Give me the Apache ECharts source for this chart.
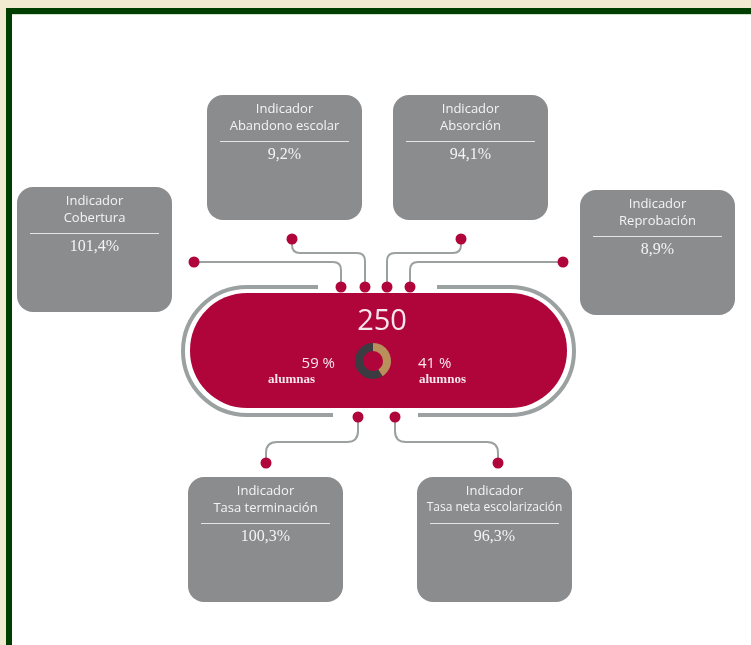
<!DOCTYPE html>
<html>
<head>
<meta charset="utf-8">
<script src="https://cdn.jsdelivr.net/npm/echarts@6/dist/echarts.min.js"></script>
<style>
html, body { margin: 0; padding: 0; background: #f3ead2; }
#main { width: 751px; height: 645px; }
</style>
</head>
<body>
<div id="main"></div>
<script>
// datos del cuadro
var indicadores = ['Cobertura', 'Abandono escolar', 'Absorción', 'Reprobación', 'Tasa terminación', 'Tasa neta escolarización'];
var valores = [101.4, 9.2, 94.1, 8.9, 100.3, 96.3];
var totalAlumnos = 250;
var generos = ['alumnas', 'alumnos'];
var porcentajes = [59, 41];

// posiciones (esquina sup. izq. de cada recuadro) y conectores
var cajas = [[17, 187], [207, 95], [393, 95], [580, 190], [188, 477], [417, 477]];
var conectores = [
	[[341, 287], [341, 262], [194, 262]],
	[[365, 287], [365, 253], [292, 253], [292, 239]],
	[[387, 287], [387, 253], [461, 253], [461, 239]],
	[[410, 287], [410, 262], [563, 262]],
	[[358, 417], [358, 442], [266, 442], [266, 463]],
	[[395, 417], [395, 442], [498, 442], [498, 463]]
];

var rojo = '#b0053a';
var grisLinea = '#9ba0a0';
var grisCaja = '#8b8c8e';
var texto = '#f4f4f4';

//formato con coma decimal
function fmt(v) {
	return v.toFixed(1).replace('.', ',') + '%';
}

//linea con esquinas redondeadas
function conector(pts, r) {
	var els = [];
	var start = pts[0];
	for (var i = 1; i < pts.length - 1; i++) {
		var p = pts[i], a = pts[i - 1], b = pts[i + 1];
		var da = Math.hypot(a[0] - p[0], a[1] - p[1]);
		var db = Math.hypot(b[0] - p[0], b[1] - p[1]);
		var pa = [p[0] + (a[0] - p[0]) / da * r, p[1] + (a[1] - p[1]) / da * r];
		var pb = [p[0] + (b[0] - p[0]) / db * r, p[1] + (b[1] - p[1]) / db * r];
		els.push({ type: 'line', shape: { x1: start[0], y1: start[1], x2: pa[0], y2: pa[1] }, style: { stroke: grisLinea, lineWidth: 2 } });
		els.push({ type: 'bezierCurve', shape: { x1: pa[0], y1: pa[1], x2: pb[0], y2: pb[1], cpx1: p[0], cpy1: p[1] }, style: { stroke: grisLinea, lineWidth: 2, fill: null } });
		start = pb;
	}
	var last = pts[pts.length - 1];
	els.push({ type: 'line', shape: { x1: start[0], y1: start[1], x2: last[0], y2: last[1] }, style: { stroke: grisLinea, lineWidth: 2 } });
	els.push({ type: 'circle', shape: { cx: pts[0][0], cy: pts[0][1], r: 5.5 }, style: { fill: rojo } });
	els.push({ type: 'circle', shape: { cx: last[0], cy: last[1], r: 5.5 }, style: { fill: rojo } });
	return els;
}

var elementos = [];
// marco verde
elementos.push({ type: 'rect', shape: { x: 6, y: 8, width: 760, height: 660 }, style: { fill: '#003f00' } });
elementos.push({ type: 'rect', shape: { x: 12, y: 14, width: 760, height: 660 }, style: { fill: '#ffffff' } });
elementos.push({ type: 'line', shape: { x1: 12, y1: 14.5, x2: 751, y2: 14.5 }, style: { stroke: '#cfe2cc', lineWidth: 1 } });

// contorno gris de la pastilla
var g = { stroke: grisLinea, lineWidth: 4, fill: null };
elementos.push({ type: 'line', shape: { x1: 318, y1: 287, x2: 247, y2: 287 }, style: g });
elementos.push({ type: 'arc', shape: { cx: 247, cy: 351, r: 64, startAngle: Math.PI / 2, endAngle: Math.PI * 1.5, clockwise: true }, style: g });
elementos.push({ type: 'line', shape: { x1: 247, y1: 415, x2: 333, y2: 415 }, style: g });
elementos.push({ type: 'line', shape: { x1: 437, y1: 287, x2: 510, y2: 287 }, style: g });
elementos.push({ type: 'arc', shape: { cx: 510, cy: 351, r: 64, startAngle: -Math.PI / 2, endAngle: Math.PI / 2, clockwise: true }, style: g });
elementos.push({ type: 'line', shape: { x1: 510, y1: 415, x2: 418, y2: 415 }, style: g });

// pastilla roja
elementos.push({ type: 'rect', shape: { x: 190, y: 293, width: 377, height: 115, r: 57 }, style: { fill: rojo } });

for (var c = 0; c < conectores.length; c++) {
	elementos = elementos.concat(conector(conectores[c], c >= 4 ? 11 : 8));
}

// recuadros de indicadores
for (var i = 0; i < indicadores.length; i++) {
	var x = cajas[i][0], y = cajas[i][1], w = 155, h = 125, cx = x + w / 2;
	var chico = indicadores[i].length > 18;
	elementos.push({ type: 'rect', shape: { x: x, y: y, width: w, height: h, r: 16 }, style: { fill: grisCaja } });
	elementos.push({ type: 'text', style: { x: cx, y: y + 14, text: 'Indicador', fill: texto, font: '13px "Open Sans"', textAlign: 'center', textVerticalAlign: 'middle' } });
	elementos.push({ type: 'text', style: { x: cx, y: y + 31, text: indicadores[i], fill: texto, font: (chico ? '12px' : '13px') + ' "Open Sans"', textAlign: 'center', textVerticalAlign: 'middle' } });
	elementos.push({ type: 'line', shape: { x1: x + 13, y1: y + 46.5, x2: x + w - 13, y2: y + 46.5 }, style: { stroke: '#e4e4e4', lineWidth: 1 } });
	elementos.push({ type: 'text', style: { x: cx, y: y + 60, text: fmt(valores[i]), fill: texto, font: '16px "Liberation Serif"', textAlign: 'center', textVerticalAlign: 'middle' } });
}

// textos centrales
var claro = '#f7e6ee';
elementos.push({ type: 'text', style: { x: 382, y: 322, text: String(totalAlumnos), fill: claro, font: '29px "Open Sans"', textAlign: 'center', textVerticalAlign: 'middle' } });
elementos.push({ type: 'text', style: { x: 335, y: 364, text: porcentajes[0] + ' %', fill: claro, font: '15px "Open Sans"', textAlign: 'right', textVerticalAlign: 'middle' } });
elementos.push({ type: 'text', style: { x: 315, y: 380, text: generos[0], fill: claro, font: 'bold 13px "Liberation Serif"', textAlign: 'right', textVerticalAlign: 'middle' } });
elementos.push({ type: 'text', style: { x: 418, y: 364, text: porcentajes[1] + ' %', fill: claro, font: '15px "Open Sans"', textAlign: 'left', textVerticalAlign: 'middle' } });
elementos.push({ type: 'text', style: { x: 419, y: 380, text: generos[1], fill: claro, font: 'bold 13px "Liberation Serif"', textAlign: 'left', textVerticalAlign: 'middle' } });

var chart = echarts.init(document.getElementById('main'));
chart.setOption({
	backgroundColor: '#f3ead2',
	animation: false,
	graphic: { elements: elementos },
	series: [{
		type: 'pie',
		center: [373, 361],
		radius: [10, 18],
		startAngle: 90,
		clockwise: false,
		silent: true,
		label: { show: false },
		labelLine: { show: false },
		itemStyle: { borderWidth: 0 },
		color: ['#3b3b42', '#b98f5c'],
		data: generos.map(function(n, k) {
			return { name: n, value: porcentajes[k] };
		})
	}]
});
</script>
</body>
</html>
